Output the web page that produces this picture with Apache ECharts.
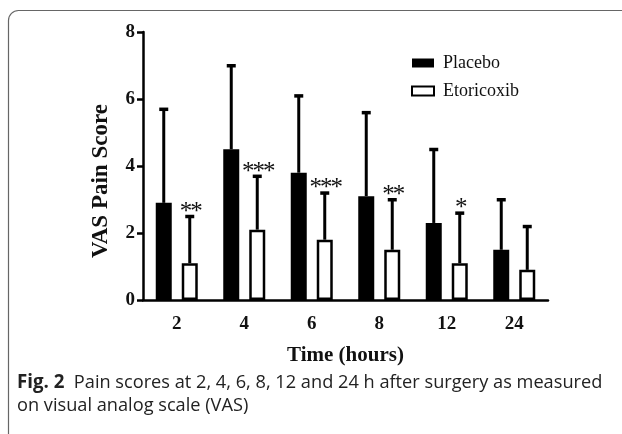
<!DOCTYPE html>
<html>
<head>
<meta charset="utf-8">
<script src="https://cdn.jsdelivr.net/npm/echarts@6/dist/echarts.min.js"></script>
<style>
html,body{margin:0;padding:0;background:#fff;}
#chart{width:622px;height:434px;}
</style>
</head>
<body>
<div id="chart"></div>
<script>
// ---- data ----
const categories = ['2', '4', '6', '8', '12', '24'];
const placeboMean = [2.9, 4.5, 3.8, 3.1, 2.3, 1.5];
const placeboUpper = [5.7, 7.0, 6.1, 5.6, 4.5, 3.0];
const etoricoxibMean = [1.1, 2.1, 1.8, 1.5, 1.1, 0.9];
const etoricoxibUpper = [2.5, 3.7, 3.2, 3.0, 2.6, 2.2];
const significance = ['**', '***', '***', '**', '*', ''];
const yTicks = [0, 2, 4, 6, 8];

const serif = '"Liberation Serif", "Times New Roman", serif';
const BAR_W = 16, GAP = 10;

function errorRenderer(sign, withStars) {
  return function (params, api) {
    const idx = api.value(0);
    const mean = api.value(1);
    const upper = api.value(2);
    const base = api.coord([idx, mean]);
    const top = api.coord([idx, upper]);
    const x = base[0] + sign * (BAR_W + GAP) / 2;
    const children = [
      { type: 'line', shape: { x1: x, y1: base[1], x2: x, y2: top[1] },
        style: { stroke: '#000', lineWidth: 3 } },
      { type: 'rect', shape: { x: x - 4.5, y: top[1] - 1.5, width: 9, height: 3.5 },
        style: { fill: '#000' } }
    ];
    if (withStars) {
      const s = significance[params.dataIndex];
      const n = s.length;
      for (let k = 0; k < n; k++) {
        children.push({ type: 'text', x: x + 1.5 + (k - (n - 1) / 2) * 10.5, y: top[1] - 4,
          style: { text: '*', fill: '#111', font: '25px ' + serif,
                   align: 'center', verticalAlign: 'middle' } });
      }
    }
    return { type: 'group', children: children };
  };
}

const chart = echarts.init(document.getElementById('chart'), null, { renderer: 'canvas' });
chart.setOption({
  animation: false,
  backgroundColor: '#fff',
  grid: { left: 143, right: 74, top: 32, bottom: 134, containLabel: false },
  legend: {
    orient: 'vertical', left: 406, top: 49, itemWidth: 22, itemHeight: 9, itemGap: 10,
    icon: 'rect',
    textStyle: { fontFamily: serif, fontSize: 18, color: '#111', padding: [0, 0, 0, 4] },
    data: ['Placebo', 'Etoricoxib']
  },
  xAxis: {
    type: 'category', data: categories,
    axisLine: { lineStyle: { color: '#000', width: 2.5 } },
    axisTick: { alignWithLabel: true, length: 8, lineStyle: { color: '#000', width: 2.5 } },
    axisLabel: { color: '#111', fontFamily: serif, fontWeight: 'bold', fontSize: 19, margin: 15 },
    name: 'Time (hours)', nameLocation: 'middle', nameGap: 45,
    nameTextStyle: { color: '#111', fontFamily: serif, fontWeight: 'bold', fontSize: 21 }
  },
  yAxis: {
    type: 'value', min: yTicks[0], max: yTicks[yTicks.length - 1], interval: 2,
    splitLine: { show: false },
    axisLine: { show: true, lineStyle: { color: '#000', width: 2.5 } },
    axisTick: { show: true, length: 6, lineStyle: { color: '#000', width: 2.5 } },
    axisLabel: { color: '#111', fontFamily: serif, fontWeight: 'bold', fontSize: 19, margin: 8 }
  },
  graphic: [
    { type: 'rect', shape: { x: 8.5, y: 10.5, width: 700, height: 500, r: 10 },
      style: { fill: 'none', stroke: '#666', lineWidth: 1.2 }, silent: true },
    { type: 'text', x: 101, y: 181, rotation: Math.PI / 2,
      style: { text: 'VAS Pain Score', fill: '#111', font: 'bold 23px ' + serif,
               align: 'center', verticalAlign: 'middle' } },
    { type: 'text', x: 17, y: 383,
      style: { text: '{b|Fig. 2}  Pain scores at 2, 4, 6, 8, 12 and 24 h after surgery as measured',
               fill: '#222', font: '18.2px "Open Sans"', verticalAlign: 'middle',
               rich: { b: { fontWeight: 'bold', fontFamily: 'Open Sans', fontSize: 18.7, fill: '#222' } } } },
    { type: 'text', x: 17, y: 406,
      style: { text: 'on visual analog scale (VAS)', fill: '#222', font: '18.2px "Open Sans"',
               verticalAlign: 'middle' } }
  ],
  series: [
    { name: 'Placebo', type: 'bar', data: placeboMean, barWidth: BAR_W, barGap: (GAP / BAR_W * 100) + '%',
      itemStyle: { color: '#000', borderColor: '#000', borderWidth: 0 }, z: 2 },
    { name: 'Etoricoxib', type: 'bar', data: etoricoxibMean, barWidth: BAR_W,
      itemStyle: { color: '#fff', borderColor: '#000', borderWidth: 2.5 }, z: 2 },
    { type: 'custom', renderItem: errorRenderer(-1, false), z: 3,
      data: placeboMean.map((m, i) => [i, m, placeboUpper[i]]) },
    { type: 'custom', renderItem: errorRenderer(1, true), z: 3,
      data: etoricoxibMean.map((m, i) => [i, m, etoricoxibUpper[i]]) }
  ]
});
</script>
</body>
</html>
